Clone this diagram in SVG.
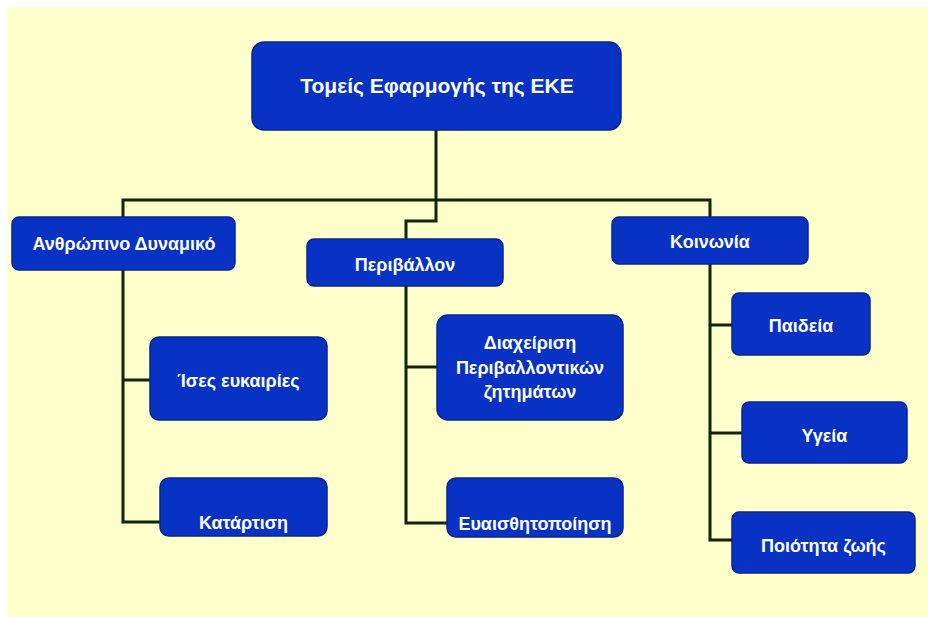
<svg xmlns="http://www.w3.org/2000/svg" width="928" height="617" viewBox="0 0 928 617">
<style>
.bg{fill:#ffffcc}
.box{fill:#0832c4;stroke:#062490;stroke-width:1.5}
.t{fill:#ffffff;font-family:"Liberation Sans",Arial,sans-serif;font-weight:bold;font-size:18px;text-anchor:middle}
.title{font-size:21px}
.ln{fill:none;stroke:#0d2606;stroke-width:3;stroke-linejoin:miter}
</style>
<rect x="0" y="0" width="928" height="617" fill="#ffffff"/>
<rect class="bg" x="7" y="7" width="921" height="610"/>
<g id="connectors">
<path class="ln" d="M436,130 V200"/>
<path class="ln" d="M123,217 V200 H710 V217"/>
<path class="ln" d="M436,200 V221 H406 V239"/>
<path class="ln" d="M123,270 V522 H160"/>
<path class="ln" d="M123,380 H150"/>
<path class="ln" d="M406,285 V523 H447"/>
<path class="ln" d="M406,367 H437"/>
<path class="ln" d="M710,263 V540 H732"/>
<path class="ln" d="M710,325 H732"/>
<path class="ln" d="M710,433 H742"/>
</g>
<g id="root">
<rect class="box" x="252" y="42" width="369" height="88" rx="12"/>
<text class="t title" x="437" y="93">Τομείς Εφαρμογής της ΕΚΕ</text>
</g>
<g id="anthropino">
<rect class="box" x="12" y="217" width="223" height="53" rx="7"/>
<text class="t" x="124" y="250">Ανθρώπινο Δυναμικό</text>
</g>
<g id="perivallon">
<rect class="box" x="307" y="239" width="196" height="47" rx="7"/>
<text class="t" x="405" y="271">Περιβάλλον</text>
</g>
<g id="koinonia">
<rect class="box" x="612" y="217" width="196" height="47" rx="7"/>
<text class="t" x="710" y="248">Κοινωνία</text>
</g>
<g id="ises">
<rect class="box" x="150" y="337" width="177" height="83" rx="9"/>
<text class="t" x="238.5" y="387">Ίσες ευκαιρίες</text>
</g>
<g id="katartisi">
<rect class="box" x="160" y="478" width="167" height="58" rx="9"/>
<text class="t" x="243.5" y="529">Κατάρτιση</text>
</g>
<g id="diaxeirisi">
<rect class="box" x="437" y="315" width="186" height="105" rx="11"/>
<text class="t" x="530" y="349">Διαχείριση</text>
<text class="t" x="530" y="374">Περιβαλλοντικών</text>
<text class="t" x="530" y="398">ζητημάτων</text>
</g>
<g id="evaisthitopoiisi">
<rect class="box" x="447" y="478" width="176" height="59" rx="9"/>
<text class="t" x="535" y="530">Ευαισθητοποίηση</text>
</g>
<g id="paideia">
<rect class="box" x="732" y="293" width="138" height="62" rx="7"/>
<text class="t" x="801" y="332">Παιδεία</text>
</g>
<g id="ygeia">
<rect class="box" x="742" y="402" width="165" height="61" rx="7"/>
<text class="t" x="824.5" y="442">Υγεία</text>
</g>
<g id="poiotita">
<rect class="box" x="732" y="512" width="183" height="61" rx="7"/>
<text class="t" x="823.5" y="552">Ποιότητα ζωής</text>
</g>
</svg>
